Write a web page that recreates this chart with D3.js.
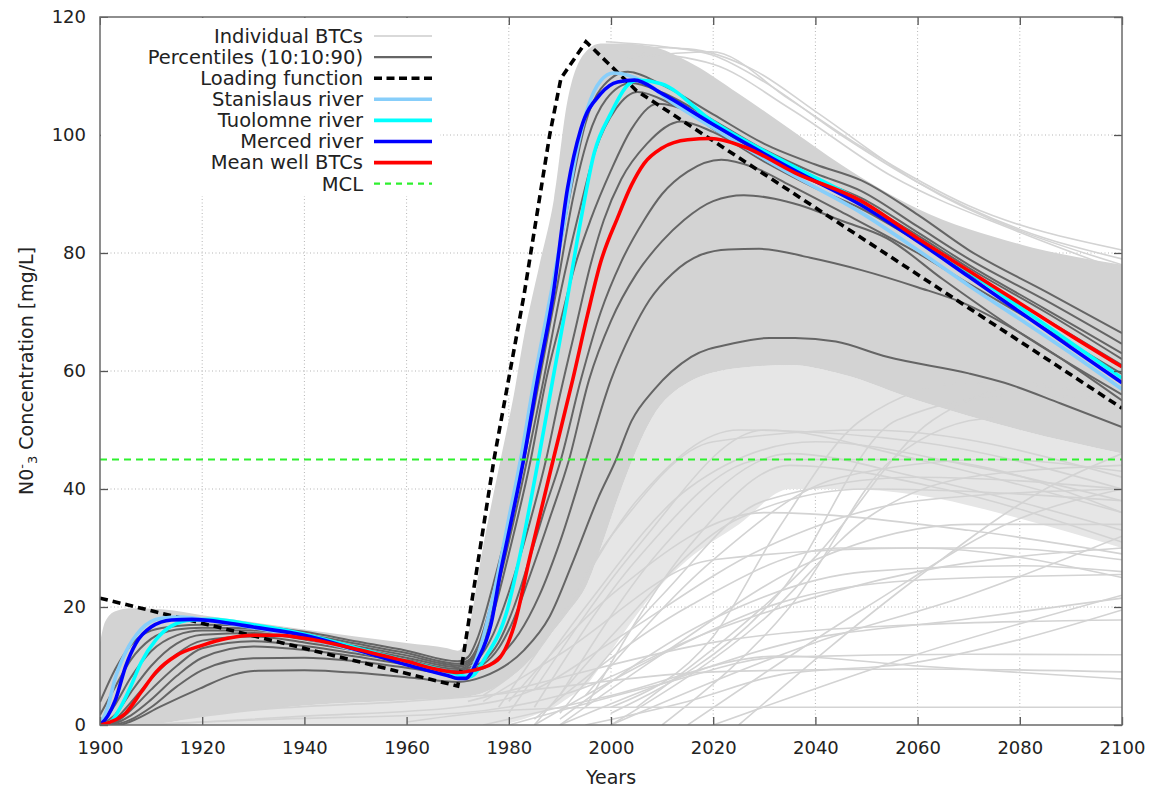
<!DOCTYPE html>
<html>
<head>
<meta charset="utf-8">
<script src="https://cdn.jsdelivr.net/npm/d3@7"></script>
<style>
  body { margin: 0; background: #fff; }
  text { font-family: "DejaVu Sans", sans-serif; fill: #222; }
</style>
</head>
<body>
<svg id="chart" width="1151" height="790"></svg>
<script>
// ---- tick labels ----
const xTicks = [1900, 1920, 1940, 1960, 1980, 2000, 2020, 2040, 2060, 2080, 2100];
const yTicks = [0, 20, 40, 60, 80, 100, 120];

// ---- dense cloud of individual BTCs (envelope of the bundle) ----
const bandYears  = [1900, 1901, 1903, 1906, 1912, 1920, 1930, 1940, 1950, 1960, 1968, 1970, 1971.5, 1973, 1974.5, 1976.5, 1978.4, 1981, 1983, 1986, 1988.8, 1991.5, 1995.4, 1998, 2002, 2008, 2015, 2025, 2035, 2045, 2060, 2080, 2100];
const bandTop    = [14, 17.5, 19.3, 19.8, 19.6, 18.6, 17.4, 16.2, 15.0, 13.9, 13.0, 12.6, 13.8, 20, 28, 37, 45, 56, 66, 78, 89, 105.9, 114.4, 115.5, 115.5, 115, 112.5, 107, 101, 95, 87.5, 81.5, 78];
const bandBottom = [0, 0, 0, 0, 0.3, 1.5, 2.5, 3.3, 3.8, 4.2, 4.5, 4.6, 4.8, 5.0, 5.3, 6, 7, 8.5, 10, 13, 16, 19, 24, 30, 40, 52, 58, 60.5, 61, 59.5, 55, 50, 46];
const sparseBottom = [0, 0, 0, 0, 0, 0, 0, 0, 0, 0, 0, 0, 0, 0, 0, 0, 0, 0.5, 1, 2, 3, 4.5, 7, 10, 15, 22, 28, 34, 40, 40, 39, 35, 30];

// ---- individual BTCs drawn one by one ----
const individualBTCs = [
  [[1999, 115.8], [2010, 115], [2020, 113.5], [2030, 109], [2045, 100], [2060, 92], [2080, 84], [2100, 79]],
  [[2000, 115], [2015, 114.6], [2028, 111], [2040, 104], [2060, 92], [2100, 78]],
  [[2003, 113], [2019.6, 114.1], [2035, 106], [2049, 98], [2070, 88], [2100, 80.5]],
  [[2005, 114], [2020, 112], [2035, 104.5], [2055, 93], [2080, 83.5], [2100, 77]],
  [[1960, 0.5], [1980, 2.5], [2000, 3], [2100, 3]],
  [[1975, 0], [2000, 5], [2033, 11.7], [2060, 10], [2100, 7.8]],
  [[1980, 0], [2010, 7], [2033, 11.5], [2070, 12], [2100, 11.9]],
  [[1995, 0], [2015, 4], [2033, 8.5], [2059, 10.5], [2080, 14.5], [2100, 19.5]],
  [[1990, 0], [2010, 7], [2033, 13.5], [2070, 18], [2100, 21.5]],
  [[1985, 0], [2010, 12], [2033, 20.7], [2059, 24.5], [2100, 25.5]],
  [[1972, 4], [1990, 8], [2020, 14], [2060, 17], [2100, 17.8]],
  [[1990, 0], [2010, 12], [2040, 28], [2070, 34], [2100, 34]],
  [[1985, 0], [2000, 15], [2025, 35], [2050, 40], [2100, 38]],
  [[1990, 2], [2010, 22], [2030, 38], [2060, 42], [2100, 40]],
  [[2000, 0], [2030, 18], [2050, 35], [2070, 42], [2100, 44]],
  [[2010, 0], [2035, 20], [2055, 45], [2075, 52], [2100, 52]],
  [[2000, 2], [2033, 22.4], [2056, 51.7], [2080, 56], [2100, 55]],
  [[2005, 3], [2040, 28.5], [2063, 51.7], [2085, 58], [2100, 58]],
  [[2000, 3], [2020, 15], [2033, 33.6], [2049, 51.7], [2070, 58], [2100, 56]],
  [[1980, 2], [1995, 20], [2015, 40], [2040, 48], [2070, 44], [2100, 38]],
  [[1978, 3], [1990, 18], [2005, 38], [2025, 50], [2060, 48], [2100, 40]],
  [[1985, 3], [2005, 28], [2030, 45], [2060, 45], [2100, 36]],
  [[1975, 5], [1985, 12], [2000, 32], [2020, 48], [2050, 50], [2100, 42]],
  [[1995, 5], [2020, 28], [2045, 42], [2075, 45], [2100, 43]],
  [[2015, 0], [2050, 20], [2080, 35], [2100, 40]],
  [[2020, 0], [2060, 12], [2100, 22]],
  [[1990, 1], [2020, 18], [2050, 26], [2080, 27], [2100, 26]],
  [[1985, 1], [2015, 20], [2045, 30], [2075, 30], [2100, 28]],
  [[1980, 4], [2000, 22], [2030, 36], [2070, 33], [2100, 29]],
  [[2000, 0], [2040, 14], [2070, 22], [2100, 32]],
  [[2025, 0], [2060, 25], [2085, 40], [2100, 46]],
  [[1975, 4], [1990, 12], [2020, 28], [2060, 30], [2100, 25]],
  [[1990, 5], [2010, 30], [2035, 46], [2060, 42], [2100, 33]],
  [[1995, 3], [2015, 30], [2035, 44], [2065, 40], [2100, 31]],
  [[1985, 6], [2005, 30], [2030, 50], [2060, 45], [2100, 36]],
  [[1910, 0], [1940, 1.5], [1970, 3], [1985, 6], [2000, 14], [2030, 30], [2060, 38], [2100, 40]],
  [[1905, 0], [1935, 1], [1970, 2], [1990, 5], [2020, 16], [2060, 26], [2100, 30]],
  [[1908, 0], [1930, 2.5], [1960, 4], [1975, 5], [1990, 6.5], [2020, 9], [2060, 9.5], [2100, 9]]
];

// ---- percentiles 10:10:90 ----
const p90 = [[1900, 3.9], [1903, 9.5], [1906, 13.5], [1910, 16], [1915, 16.8], [1920, 17.0], [1930, 16.8], [1940, 15.8], [1950, 14.2], [1960, 12.6], [1970, 10.8], [1972, 11.5], [1974, 15], [1977, 24], [1980, 34.5], [1982.3, 45], [1985.5, 59], [1989, 76], [1992, 90], [1995, 102], [1998, 107.8], [2003.3, 110.7], [2010, 108.5], [2020, 103.5], [2030, 98.5], [2040, 95], [2049, 92.3], [2060, 86.5], [2070, 80.5], [2085, 73.5], [2100, 66.4]];
const p80 = [[1900, 1.7], [1903, 6.5], [1906, 11], [1910, 14.6], [1915, 16.2], [1920, 16.5], [1930, 16.4], [1940, 15.4], [1950, 13.8], [1960, 12.2], [1970, 10.4], [1972, 10.9], [1974, 13.5], [1977, 22], [1980, 33], [1983, 45], [1986, 58.5], [1989.5, 74.5], [1992.5, 89], [1995.5, 99.5], [1999, 106], [2004, 108.8], [2010, 107.2], [2020, 102.5], [2030, 97.5], [2040, 93.5], [2049, 90.5], [2060, 84.5], [2070, 79], [2085, 72], [2100, 64.6]];
const p70 = [[1900, 0], [1903, 3.5], [1906, 8], [1910, 12.5], [1915, 15.2], [1920, 16.0], [1930, 16.0], [1940, 15.0], [1950, 13.4], [1960, 11.8], [1970, 10.1], [1972, 10.6], [1974, 12.8], [1977, 20.5], [1980, 31], [1983.6, 45], [1986.8, 58.5], [1990.3, 74], [1993.5, 86], [1997, 97.5], [2001, 104.5], [2005.2, 107.3], [2012, 105.2], [2020, 101.5], [2030, 96.5], [2040, 92.5], [2049, 89.3], [2060, 83.5], [2070, 78], [2085, 70.5], [2100, 63]];
const p60 = [[1900, 0], [1903, 1.8], [1906, 5.5], [1910, 10], [1915, 13.8], [1920, 15.3], [1930, 15.6], [1940, 14.5], [1950, 13.0], [1960, 11.4], [1970, 9.8], [1972, 10.3], [1974, 12.2], [1977, 19], [1980, 29], [1984.3, 45], [1987.3, 58.5], [1990, 68], [1993, 78], [1996, 85.6], [2000, 94], [2004, 101], [2009.1, 105.3], [2015, 104], [2020, 101], [2030, 96], [2040, 92], [2049, 88.5], [2060, 83], [2070, 77.5], [2085, 70], [2100, 62]];
const p50 = [[1900, 0], [1903, 1], [1906, 3.8], [1910, 7.8], [1915, 12], [1920, 14.3], [1930, 15.0], [1940, 14.0], [1950, 12.6], [1960, 11.0], [1970, 9.5], [1972, 10.0], [1974, 11.2], [1977, 15.5], [1980, 22.5], [1984, 34], [1987.3, 45], [1989.9, 55.5], [1993, 67], [1996, 78], [1998.6, 85.6], [2002, 92.5], [2007, 98.5], [2013.7, 102.3], [2020, 100.5], [2030, 95.5], [2040, 91], [2049, 87.5], [2060, 82], [2070, 76.5], [2085, 68.8], [2100, 61]];
const p40 = [[1900, 0], [1903, 0.5], [1906, 2.5], [1910, 6], [1915, 10], [1920, 13.0], [1930, 14.2], [1940, 13.4], [1950, 12.1], [1960, 10.6], [1970, 9.2], [1972, 9.7], [1975, 10.8], [1978, 14], [1981, 20], [1984, 28], [1987, 36.5], [1990.2, 45], [1994.1, 58.5], [1998, 70], [2002, 78.5], [2006.5, 85.6], [2010, 90], [2015, 93.8], [2021.6, 95.8], [2028, 94.5], [2035, 91.5], [2045, 87], [2060, 80], [2070, 74.8], [2085, 67.2], [2100, 59.5]];
const p30 = [[1900, 0], [1903, 0.3], [1906, 1.6], [1910, 4.3], [1915, 8.3], [1920, 11.4], [1930, 13.3], [1940, 12.7], [1950, 11.6], [1960, 10.2], [1970, 8.9], [1972, 9.4], [1975, 10.3], [1978, 13], [1981, 18], [1984, 25], [1988, 35], [1991.8, 45], [1995.7, 58.5], [2000, 68.5], [2005, 76.5], [2010, 82], [2014.3, 85.6], [2020, 88.8], [2026, 89.8], [2032, 89.2], [2037, 88.1], [2045, 85.5], [2054, 82.5], [2065, 75.5], [2080, 66.5], [2100, 56]];
const p20 = [[1900, 0], [1903, 0.1], [1906, 0.9], [1910, 3], [1915, 6.5], [1920, 9.3], [1930, 11.3], [1940, 11.4], [1950, 10.8], [1960, 9.7], [1970, 8.6], [1972, 9.0], [1975, 9.6], [1978, 11.5], [1982, 15.5], [1986, 22], [1990, 31], [1995.1, 45], [2000, 58.5], [2004, 66.5], [2007.5, 72], [2012, 76.5], [2017.6, 79.7], [2023, 80.6], [2029, 80.7], [2039, 79.2], [2049, 77.1], [2060, 74.2], [2069, 71.5], [2079, 67], [2090, 61], [2100, 55]];
const p10 = [[1900, 0], [1903.6, 0], [1906, 0.6], [1911.8, 3.1], [1919.6, 6.2], [1926, 8.5], [1931, 9.2], [1940, 9.3], [1951, 8.8], [1961, 8.0], [1970, 7.3], [1975, 8.2], [1983, 12.7], [1988, 18.4], [1992.7, 28], [1997.5, 38.5], [2001, 45], [2004, 51.5], [2008.4, 56.8], [2015.7, 62.4], [2024, 64.7], [2031, 65.6], [2036, 65.6], [2044, 65], [2054, 62.4], [2070, 59.6], [2077, 58], [2088, 54.5], [2100, 50.5]];
const percentiles = [p10, p20, p30, p40, p50, p60, p70, p80, p90];

// ---- loading function ----
const loading = [[1900, 21.5], [1970, 6.6], [1970.7, 9.5], [1977.1, 45], [1983, 73], [1988, 100], [1990.2, 109.6], [1995.1, 115.8], [2005, 107.5], [2100, 53.7]];

// ---- river means and mean well BTC ----
const stanislaus = [[1900, 0], [1901.5, 3], [1903, 8], [1905, 12.3], [1908, 16.2], [1912, 18.1], [1916, 18.3], [1920, 17.9], [1930, 16.5], [1940, 14.8], [1950, 12.7], [1960, 10.5], [1970, 8.3], [1972, 8.6], [1974, 12], [1977, 22], [1980, 35], [1982.3, 45], [1985, 58.5], [1988, 72], [1991, 86], [1993, 96], [1995.4, 104.5], [1998, 109.2], [2000.5, 110.5], [2006.5, 109], [2012, 105.5], [2019.6, 101.4], [2028, 97], [2036, 93], [2049, 86.8], [2060, 80.5], [2070, 74.5], [2080, 68.8], [2090, 63], [2100, 56.9]];
const tuolomne = [[1900, 0], [1902, 0.5], [1904, 3], [1906, 6.5], [1908, 10.5], [1911, 14.5], [1914, 16.8], [1918, 17.8], [1922, 17.9], [1930, 17.0], [1940, 15.4], [1950, 13.1], [1960, 10.8], [1970, 8.6], [1972, 8.1], [1973.2, 8.5], [1975.1, 11], [1979.7, 19.5], [1982, 28], [1985.8, 45], [1988.6, 58.5], [1991, 70], [1994.1, 85.6], [1996.7, 96.9], [2000, 103.7], [2003.3, 108.5], [2005.2, 109.3], [2009.8, 108.7], [2019.6, 102.5], [2035.9, 94.6], [2049, 88.7], [2060, 82.5], [2070, 76.8], [2080, 70.8], [2090, 64.8], [2100, 58.8]];
const merced = [[1900, 0], [1901.5, 1.5], [1903, 4.2], [1905, 9.9], [1907, 13.8], [1910, 16.6], [1914, 17.8], [1918, 17.9], [1925, 17.3], [1930, 16.6], [1940, 15.2], [1950, 12.8], [1960, 10.2], [1968, 8.4], [1970, 7.9], [1971.5, 7.9], [1973.9, 11], [1976.5, 17], [1978.4, 26], [1979.7, 31.4], [1982.9, 45], [1985.6, 58.5], [1988.6, 72.5], [1991.5, 91], [1994.1, 101], [1998, 107], [2001.3, 109], [2004.6, 109.3], [2010, 107], [2019.6, 102], [2035.9, 94], [2049, 88.1], [2060, 82], [2070, 76], [2080, 70], [2090, 64], [2100, 58]];
const meanWell = [[1900, 0], [1902, 0.5], [1905, 2], [1908, 5.5], [1911, 9], [1915, 11.8], [1920, 13.5], [1925, 14.7], [1930, 15.2], [1935, 15.2], [1940, 14.7], [1950, 12.9], [1960, 10.8], [1966.7, 9.3], [1970, 8.9], [1973.2, 9.3], [1977.8, 11], [1981, 16.7], [1984, 28], [1988.7, 45], [1992.5, 58.5], [1995.4, 69.5], [1998, 78.5], [2001.3, 86], [2004, 91.5], [2006.5, 95.2], [2010, 97.8], [2015, 99.2], [2019.6, 99.4], [2026, 98], [2036, 93.6], [2049, 88.8], [2060, 82.5], [2070, 77], [2080, 71.5], [2090, 66], [2100, 60.7]];

const mclValue = 45;

const legendLabels = ["Individual BTCs", "Percentiles (10:10:90)", "Loading function", "Stanislaus river", "Tuolomne river", "Merced river", "Mean well BTCs", "MCL"];

/**
 * drawChart draws the whole figure into #chart
 */
function drawChart() {
  const svg = d3.select("#chart");
  const left = 100, right = 1122, top = 17, bottom = 725;

  const x = d3.scaleLinear().domain([1900, 2100]).range([left, right]);
  const y = d3.scaleLinear().domain([0, 120]).range([bottom, top]);

  svg.append("defs").append("clipPath").attr("id", "plotclip")
    .append("rect").attr("x", left).attr("y", top)
    .attr("width", right - left).attr("height", bottom - top);

  // grid
  const grid = svg.append("g").attr("stroke", "#b5b5b5").attr("stroke-width", 1)
    .attr("stroke-dasharray", "1,2.5");
  xTicks.slice(1, -1).forEach((t) => {
    grid.append("line").attr("x1", x(t)).attr("x2", x(t)).attr("y1", top).attr("y2", bottom);
  });
  yTicks.slice(1, -1).forEach((t) => {
    grid.append("line").attr("x1", left).attr("x2", right).attr("y1", y(t)).attr("y2", y(t));
  });

  const plot = svg.append("g").attr("clip-path", "url(#plotclip)");

  const line = d3.line()
    .x((d) => x(d[0]))
    .y((d) => y(d[1]))
    .curve(d3.curveMonotoneX);

  // sparse part of the cloud
  plot.append("path")
    .datum(bandYears)
    .attr("fill", "#e6e6e6")
    .attr("d", d3.area()
      .x((d) => x(d))
      .y0((d, i) => y(sparseBottom[i]))
      .y1((d, i) => y(bandBottom[i]))
      .curve(d3.curveMonotoneX));

  // dense part of the cloud
  plot.append("path")
    .datum(bandYears)
    .attr("fill", "#d3d3d3")
    .attr("d", d3.area()
      .x((d) => x(d))
      .y0((d, i) => y(bandBottom[i]))
      .y1((d, i) => y(bandTop[i]))
      .curve(d3.curveMonotoneX));

  plot.append("g").selectAll("path")
    .data(individualBTCs)
    .enter().append("path")
    .attr("fill", "none")
    .attr("stroke", "#d3d3d3")
    .attr("stroke-width", 1.6)
    .attr("d", line);

  plot.append("g").selectAll("path")
    .data(percentiles)
    .enter().append("path")
    .attr("fill", "none")
    .attr("stroke", "#656565")
    .attr("stroke-width", 2)
    .attr("d", line);

  plot.append("path")
    .datum(loading)
    .attr("fill", "none")
    .attr("stroke", "#000")
    .attr("stroke-width", 3.6)
    .attr("stroke-dasharray", "8,5")
    .attr("d", d3.line().x((d) => x(d[0])).y((d) => y(d[1])));

  const rivers = [
    { data: stanislaus, color: "#87cefa" },
    { data: tuolomne, color: "#00ffff" },
    { data: merced, color: "#0000ff" },
    { data: meanWell, color: "#ff0000" }
  ];
  rivers.forEach((r) => {
    plot.append("path")
      .datum(r.data)
      .attr("fill", "none")
      .attr("stroke", r.color)
      .attr("stroke-width", 3.6)
      .attr("d", line);
  });

  plot.append("line")
    .attr("x1", left).attr("x2", right)
    .attr("y1", y(mclValue)).attr("y2", y(mclValue))
    .attr("stroke", "#2ef02e")
    .attr("stroke-width", 2.2)
    .attr("stroke-dasharray", "7,5");

  // ticks on all four sides, pointing inwards
  const xAxis = svg.append("g")
    .attr("transform", "translate(0," + bottom + ")")
    .call(d3.axisBottom(x).tickValues(xTicks).tickFormat(d3.format("d")).tickSize(-8).tickPadding(16));
  const yAxis = svg.append("g")
    .attr("transform", "translate(" + left + ",0)")
    .call(d3.axisLeft(y).tickValues(yTicks).tickSize(-8).tickPadding(14));
  svg.append("g")
    .attr("transform", "translate(0," + top + ")")
    .call(d3.axisTop(x).tickValues(xTicks).tickFormat("").tickSize(-8));
  svg.append("g")
    .attr("transform", "translate(" + right + ",0)")
    .call(d3.axisRight(y).tickValues(yTicks).tickFormat("").tickSize(-8));

  svg.selectAll(".domain").remove();
  svg.selectAll(".tick line").attr("stroke", "#555").attr("stroke-width", 1.3);
  svg.selectAll(".tick text")
    .style("font-family", "DejaVu Sans, sans-serif")
    .style("font-size", "18px")
    .attr("fill", "#222");

  svg.append("rect")
    .attr("x", left).attr("y", top)
    .attr("width", right - left).attr("height", bottom - top)
    .attr("fill", "none")
    .attr("stroke", "#6a6a6a")
    .attr("stroke-width", 1.5);

  // axis titles
  svg.append("text")
    .attr("x", (left + right) / 2)
    .attr("y", 784)
    .attr("text-anchor", "middle")
    .attr("font-size", "19px")
    .text("Years");

  const yTitle = svg.append("text")
    .attr("transform", "translate(33," + (top + bottom) / 2 + ") rotate(-90)")
    .attr("text-anchor", "middle")
    .attr("font-size", "19px");
  yTitle.append("tspan").text("N0");
  yTitle.append("tspan").attr("dy", -7).attr("font-size", "13px").text("-");
  yTitle.append("tspan").attr("dy", 11).attr("font-size", "13px").text("3");
  yTitle.append("tspan").attr("dy", -4).text(" Concentration [mg/L]");

  // legend
  const legend = svg.append("g");
  legend.append("rect")
    .attr("x", left + 1).attr("y", top + 1)
    .attr("width", 339).attr("height", 178)
    .attr("fill", "#fff");

  const legendStyles = [
    { stroke: "#d9d9d9", width: 2, dash: null },
    { stroke: "#656565", width: 2.4, dash: null },
    { stroke: "#000", width: 3.6, dash: "8,4.5" },
    { stroke: "#87cefa", width: 3.6, dash: null },
    { stroke: "#00ffff", width: 3.6, dash: null },
    { stroke: "#0000ff", width: 3.6, dash: null },
    { stroke: "#ff0000", width: 3.6, dash: null },
    { stroke: "#2ef02e", width: 2.2, dash: "6,5" }
  ];

  legendLabels.forEach((label, i) => {
    const yy = 36 + i * 21.1;
    legend.append("text")
      .attr("x", 363)
      .attr("y", yy)
      .attr("dy", "0.35em")
      .attr("text-anchor", "end")
      .attr("font-size", "19.5px")
      .text(label);
    legend.append("line")
      .attr("x1", 374).attr("x2", 432)
      .attr("y1", yy).attr("y2", yy)
      .attr("stroke", legendStyles[i].stroke)
      .attr("stroke-width", legendStyles[i].width)
      .attr("stroke-dasharray", legendStyles[i].dash);
  });
}

drawChart();
</script>
</body>
</html>
